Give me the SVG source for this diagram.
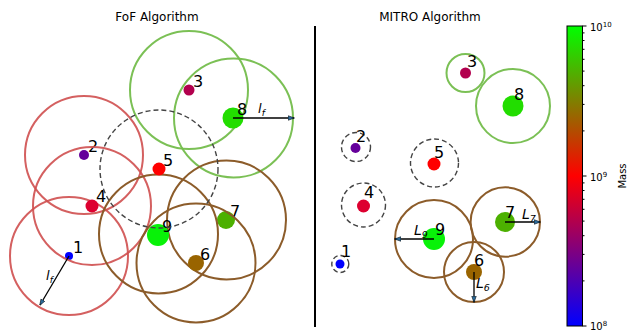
<svg xmlns="http://www.w3.org/2000/svg" width="628" height="331" viewBox="0 0 628 331">
<style>
text{font-family:"DejaVu Sans","Liberation Sans",sans-serif;fill:#000}
.t{font-size:12px;text-anchor:middle}
.n{font-size:16px}
.ring{fill:none;stroke-width:2}
.r{stroke:#cf4f4f;stroke-opacity:.9}
.g{stroke:#74bd4c;stroke-opacity:.95}
.b{stroke:#8c5c2a}
.d{fill:none;stroke:#444;stroke-width:1.4;stroke-dasharray:5,3}
.arr{stroke:#000;stroke-width:1.3;fill:none;marker-end:url(#ah)}
.it{font-style:italic}
.tk{stroke:#000;stroke-width:1}
.cl{font-size:10px}
</style>
<defs>
<marker id="ah" viewBox="0 0 10 10" refX="9" refY="5" markerWidth="6.5" markerHeight="6.5" orient="auto" markerUnits="userSpaceOnUse">
<path d="M0,1.5 L10,5 L0,8.5 Z" fill="#2b6a9a" stroke="#000" stroke-width="0.8"/>
</marker>
<linearGradient id="cb" x1="0" y1="1" x2="0" y2="0">
<stop offset="0" stop-color="#0000ff"/>
<stop offset="0.5" stop-color="#ff0000"/>
<stop offset="1" stop-color="#00ff00"/>
</linearGradient>
</defs>
<rect width="628" height="331" fill="#fff"/>

<text class="t" x="157" y="21">FoF Algorithm</text>
<text class="t" x="430" y="21">MITRO Algorithm</text>
<line x1="315" y1="26" x2="315" y2="327" stroke="#000" stroke-width="2"/>

<!-- FoF panel -->
<g id="fof-node-1"><circle cx="69" cy="256" r="4" fill="#0000ff"/><circle class="ring r" cx="69" cy="256" r="59"/><text class="n" x="73" y="253">1</text></g>
<g id="fof-node-2"><circle cx="84" cy="155" r="5" fill="#66009a"/><circle class="ring r" cx="84" cy="155" r="59"/><text class="n" x="88" y="152">2</text></g>
<g id="fof-node-4"><circle cx="92" cy="206" r="6.5" fill="#dd0030"/><circle class="ring r" cx="92" cy="206" r="59"/><text class="n" x="96" y="202">4</text></g>
<g id="fof-node-3"><circle cx="189" cy="90" r="5.5" fill="#b2004e"/><circle class="ring g" cx="189" cy="90" r="59"/><text class="n" x="193" y="87">3</text></g>
<g id="fof-node-8"><circle cx="233" cy="118" r="10.5" fill="#22dd00"/><circle class="ring g" cx="233.5" cy="118" r="59.5"/><text class="n" x="237" y="115">8</text></g>
<g id="fof-node-7"><circle cx="226" cy="220" r="9" fill="#4cb000"/><circle class="ring b" cx="226.5" cy="220" r="59.5"/><text class="n" x="230" y="217">7</text></g>
<g id="fof-node-6"><circle cx="196" cy="263" r="8" fill="#996400"/><circle class="ring b" cx="196" cy="263" r="59.5"/><text class="n" x="200" y="260">6</text></g>
<g id="fof-node-9"><circle cx="158" cy="235" r="11" fill="#08f208"/><circle class="ring b" cx="158.5" cy="234" r="59.5"/><text class="n" x="162" y="232">9</text></g>
<g id="fof-node-5"><circle cx="159" cy="169" r="6.5" fill="#ff0000"/><circle class="d" cx="159" cy="169" r="59"/><text class="n" x="163" y="166">5</text></g>

<!-- MITRO panel -->
<g id="mitro-node-3"><circle cx="465.5" cy="73" r="5.5" fill="#b2004e"/><circle class="ring g" cx="465.5" cy="73" r="19"/><text class="n" x="467" y="67">3</text></g>
<g id="mitro-node-8"><circle cx="513" cy="106" r="10.5" fill="#22dd00"/><circle class="ring g" cx="513" cy="106" r="37"/><text class="n" x="514" y="100">8</text></g>
<g id="mitro-node-2"><circle cx="355.5" cy="148" r="5" fill="#66009a"/><circle class="d" cx="356" cy="147" r="14.5"/><text class="n" x="356" y="142">2</text></g>
<g id="mitro-node-5"><circle cx="434" cy="164" r="6.5" fill="#ff0000"/><circle class="d" cx="434.5" cy="163" r="24"/><text class="n" x="434" y="158">5</text></g>
<g id="mitro-node-4"><circle cx="363.5" cy="206" r="6.5" fill="#dd0030"/><circle class="d" cx="363.5" cy="205" r="22"/><text class="n" x="364" y="198">4</text></g>
<g id="mitro-node-1"><circle cx="340" cy="264" r="4.5" fill="#0000ff"/><circle class="d" cx="340.3" cy="264" r="8.5"/><text class="n" x="341" y="257">1</text></g>
<g id="mitro-node-9"><circle cx="434" cy="239" r="11" fill="#08f208"/><circle class="ring b" cx="434" cy="239" r="39"/><text class="n" x="435" y="235">9</text></g>
<g id="mitro-node-7"><circle cx="505" cy="222" r="10" fill="#4cb000"/><circle class="ring b" cx="505.3" cy="222" r="34.7"/><text class="n" x="505" y="218">7</text></g>
<g id="mitro-node-6"><circle cx="474" cy="272" r="8" fill="#996400"/><circle class="ring b" cx="474" cy="272" r="30"/><text class="n" x="474" y="266">6</text></g>

<g id="connectors">
<line class="arr" x1="69" y1="256" x2="40" y2="305"/>
<line class="arr" x1="233" y1="118" x2="294" y2="118"/>
<line class="arr" x1="434" y1="239" x2="395" y2="239"/>
<line class="arr" x1="505" y1="222" x2="540" y2="222"/>
<line class="arr" x1="474" y1="272" x2="474" y2="302"/>
</g>
<g id="arrow-labels">
<text class="it" x="46" y="280" font-size="13">l<tspan font-size="9" dy="3">f</tspan></text>
<text class="it" x="258" y="113" font-size="13">l<tspan font-size="9" dy="3">f</tspan></text>
<text class="it" x="414" y="235" font-size="14">L<tspan font-size="9.5" dy="3">9</tspan></text>
<text class="it" x="522" y="219" font-size="14">L<tspan font-size="9.5" dy="3">7</tspan></text>
<text class="it" x="476" y="288" font-size="14">L<tspan font-size="9.5" dy="3">6</tspan></text>
</g>

<!-- colorbar -->
<g id="colorbar">
<rect x="567" y="26" width="15.5" height="300" fill="url(#cb)" stroke="#000" stroke-width="1"/>
<path class="tk" d="M582.5,26h4M582.5,176h4M582.5,326h4"/>
<path class="tk" d="M582.5,130.9h2M582.5,104.4h2M582.5,85.7h2M582.5,71.1h2M582.5,59.3h2M582.5,49.3h2M582.5,40.5h2M582.5,32.9h2M582.5,280.9h2M582.5,254.4h2M582.5,235.7h2M582.5,221.1h2M582.5,209.3h2M582.5,199.3h2M582.5,190.5h2M582.5,182.9h2"/>
<text class="cl" x="590" y="31">10<tspan font-size="7" dy="-4">10</tspan></text>
<text class="cl" x="590" y="181">10<tspan font-size="7" dy="-4">9</tspan></text>
<text class="cl" x="590" y="330">10<tspan font-size="7" dy="-4">8</tspan></text>
<text class="cl" transform="translate(626,176) rotate(-90)" text-anchor="middle">Mass</text>
</g>
</svg>
